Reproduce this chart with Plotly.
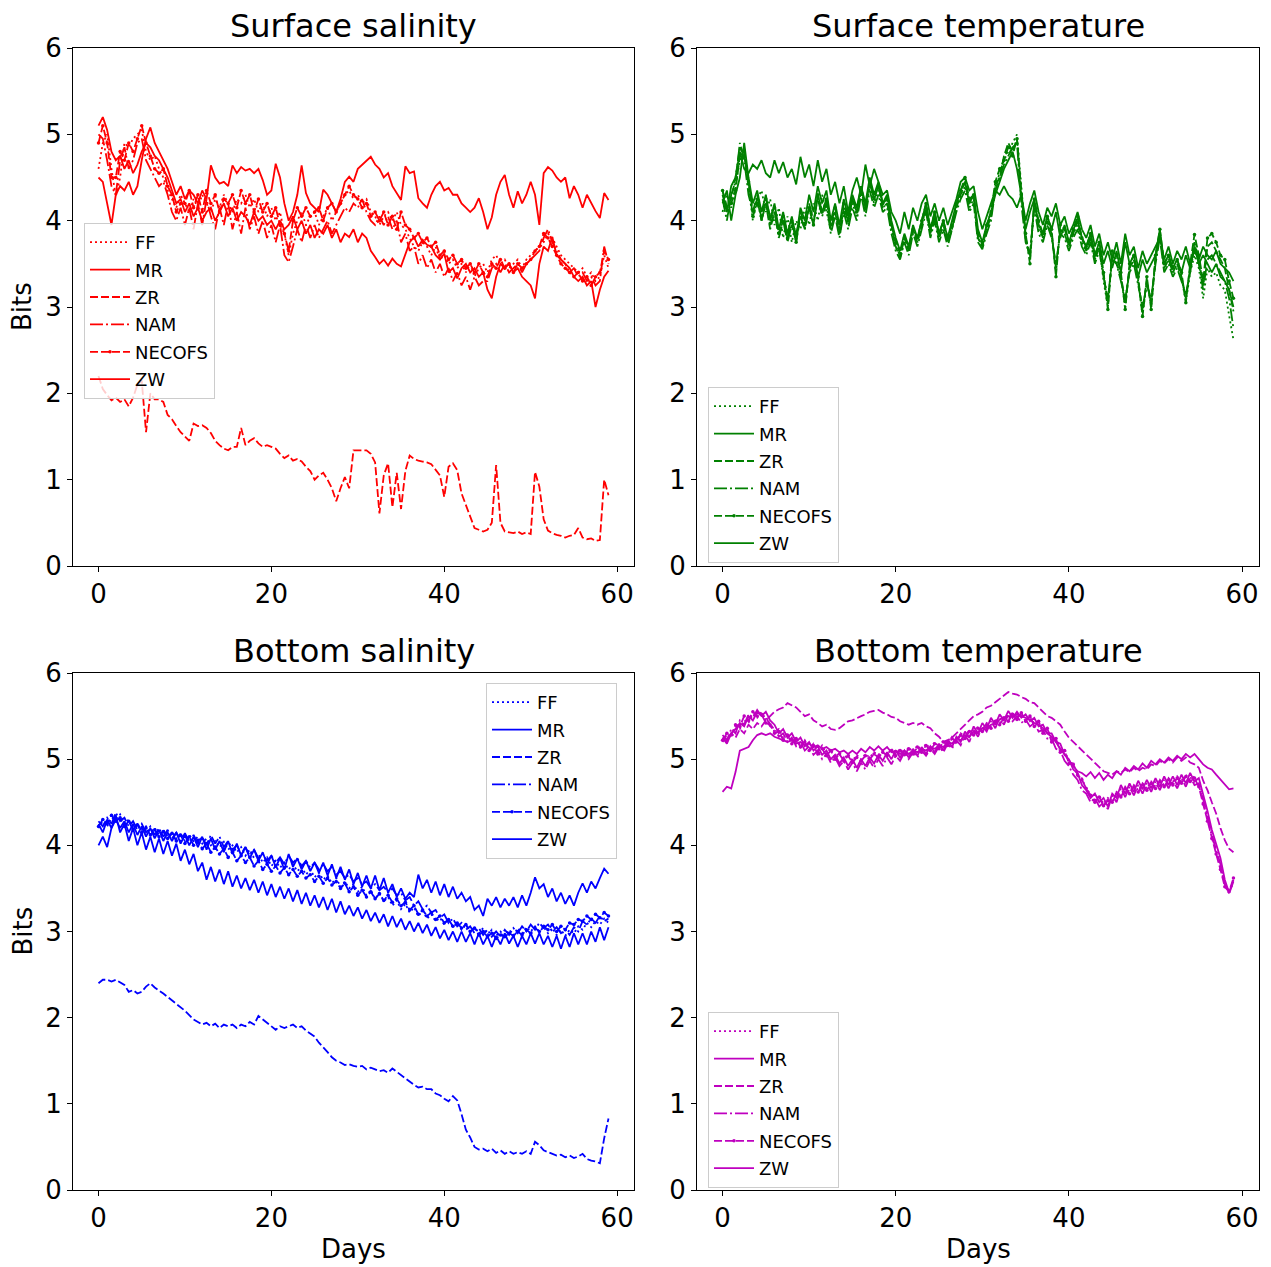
import plotly.graph_objects as go

# ---------------- data (Bits, sampled every half day, days 0..59) ----------------
STEP = 0.5
models = ["FF", "MR", "ZR", "NAM", "NECOFS", "ZW"]

# Surface salinity
ss_FF = [4.6, 4.9, 5.0, 4.6, 4.28, 4.5, 4.9, 4.85, 4.95, 5.0,
         5.05, 4.8, 4.7, 4.75, 4.6, 4.5, 4.35, 4.25, 4.15, 4.3,
         4.2, 4.1, 4.25, 4.15, 4.3, 4.2, 4.1, 4.25, 4.15, 4.3,
         4.2, 4.1, 4.25, 4.2, 4.3, 4.15, 4.25, 4.1, 4.2, 4.05,
         4.15, 4.0, 4.1, 3.85, 3.6, 3.85, 4.0, 4.1, 3.95, 4.05,
         4.1, 3.95, 4.05, 4.15, 4.0, 4.1, 4.2, 4.3, 4.35, 4.25,
         4.3, 4.2, 4.25, 4.1, 4.05, 3.95, 4.05, 4.1, 4.0, 4.1,
         3.95, 3.9, 3.8, 3.7, 3.65, 3.75, 3.7, 3.6, 3.7, 3.55,
         3.6, 3.5, 3.55, 3.45, 3.5, 3.4, 3.5, 3.35, 3.45, 3.5,
         3.4, 3.55, 3.6, 3.5, 3.55, 3.45, 3.5, 3.55, 3.45, 3.55,
         3.6, 3.65, 3.7, 3.75, 3.85, 3.8, 3.7, 3.6, 3.55, 3.5,
         3.45, 3.4, 3.45, 3.35, 3.4, 3.3, 3.35, 3.6, 3.45]
ss_MR = [5.1, 5.2, 5.05, 4.8, 4.7, 4.75, 4.6, 4.7, 4.55, 4.65,
         4.8, 4.9, 4.85, 4.75, 4.7, 4.6, 4.5, 4.35, 4.2, 4.25,
         4.1, 4.2, 4.05, 4.15, 4.0, 4.1, 4.15, 4.0, 4.1, 4.2,
         4.05, 4.15, 4.0, 4.1, 4.05, 3.95, 4.1, 4.0, 4.05, 3.95,
         4.0, 3.9, 4.0, 3.9, 3.95, 4.05, 3.9, 4.0, 3.85, 3.95,
         3.8, 3.9, 3.85, 3.95, 3.8, 3.9, 3.75, 3.85, 3.81, 3.9,
         3.75, 3.85, 3.8, 3.65, 3.58, 3.5, 3.55, 3.48, 3.56, 3.5,
         3.47, 3.6, 3.75, 3.81, 3.7, 3.78, 3.72, 3.7, 3.6, 3.55,
         3.62, 3.4, 3.45, 3.33, 3.45, 3.5, 3.4, 3.45, 3.35, 3.4,
         3.2, 3.1, 3.35, 3.5, 3.45, 3.5, 3.4, 3.45, 3.35, 3.3,
         3.25, 3.1, 3.5, 3.7, 3.65, 3.81, 3.6, 3.55, 3.5, 3.45,
         3.35, 3.3, 3.35, 3.25, 3.3, 3.0, 3.2, 3.35, 3.42]
ss_ZR = [2.2, 2.05, 1.98, 1.92, 1.95, 1.9, 1.93, 1.85, 1.95, 2.1,
         2.15, 1.55, 2.0, 1.93, 1.93, 1.9, 1.75, 1.7, 1.62, 1.55,
         1.5, 1.45, 1.65, 1.62, 1.63, 1.6, 1.54, 1.45, 1.4, 1.36,
         1.34, 1.38, 1.38, 1.6, 1.4, 1.45, 1.48, 1.42, 1.38, 1.4,
         1.38, 1.36, 1.3, 1.25, 1.28, 1.22, 1.24, 1.21, 1.15, 1.1,
         1.0, 1.05, 1.08, 1.0, 0.9, 0.75, 0.9, 1.03, 0.9, 1.34,
         1.34, 1.34, 1.34, 1.3, 1.2, 0.61, 1.05, 1.19, 0.68, 1.08,
         0.66, 1.1, 1.28, 1.24, 1.22, 1.21, 1.2, 1.18, 1.12, 1.05,
         0.8, 1.15, 1.19, 1.11, 0.84, 0.7, 0.58, 0.44, 0.42, 0.4,
         0.42, 0.5, 1.17, 0.5, 0.4, 0.39, 0.38, 0.4, 0.37, 0.39,
         0.37, 1.09, 0.92, 0.54, 0.41, 0.38, 0.36, 0.35, 0.33, 0.35,
         0.36, 0.44, 0.33, 0.31, 0.32, 0.29, 0.3, 1.0, 0.82]
ss_NAM = [5.0, 4.95, 4.7, 4.4, 4.3, 4.7, 4.85, 4.6, 4.7, 4.9,
          4.95, 4.7, 4.6, 4.5, 4.4, 4.45, 4.3, 4.1, 4.0, 4.15,
          3.95, 4.15, 3.9, 4.2, 3.95, 4.25, 4.05, 3.9, 4.15, 3.95,
          4.2, 3.9, 4.1, 3.85, 4.15, 3.9, 4.05, 3.85, 4.0, 3.8,
          3.95, 3.75, 3.95, 3.6, 3.52, 3.7, 3.9, 3.75, 3.95, 3.8,
          3.95, 3.8, 3.9, 4.0, 3.85, 3.95, 4.05, 4.15, 4.1, 4.2,
          4.15, 4.25, 4.1, 4.0, 3.95, 4.05, 3.95, 4.05, 3.9, 4.0,
          3.75, 3.85, 3.65, 3.7, 3.5, 3.6, 3.45, 3.55, 3.4, 3.5,
          3.35, 3.45, 3.3, 3.4, 3.25, 3.35, 3.2, 3.35, 3.25, 3.3,
          3.3, 3.45, 3.5, 3.4, 3.5, 3.4, 3.45, 3.5, 3.4, 3.5,
          3.55, 3.6, 3.65, 3.8, 3.9, 3.75, 3.65, 3.55, 3.5, 3.4,
          3.45, 3.35, 3.4, 3.3, 3.35, 3.25, 3.3, 3.7, 3.5]
ss_NECOFS = [4.9, 5.1, 4.9, 4.5, 4.5, 4.8, 4.7, 4.9, 4.8, 4.95,
             5.1, 4.9, 4.75, 4.6, 4.55, 4.6, 4.4, 4.3, 4.1, 4.2,
             4.2, 4.35, 4.15, 4.3, 4.1, 4.35, 4.2, 4.3, 4.1, 4.25,
             4.2, 4.3, 4.15, 4.35, 4.2, 4.3, 4.1, 4.25, 4.1, 4.2,
             4.05, 4.15, 3.95, 3.85, 3.65, 4.0, 4.15, 4.05, 4.15, 4.05,
             4.1, 4.15, 4.0, 4.15, 4.2, 4.1, 4.2, 4.3, 4.4, 4.3,
             4.25, 4.15, 4.2, 4.05, 4.1, 4.0, 4.1, 3.95, 4.05, 3.9,
             4.1, 3.95, 3.9, 3.8, 3.85, 3.75, 3.8, 3.7, 3.75, 3.6,
             3.65, 3.55, 3.6, 3.5, 3.55, 3.45, 3.5, 3.4, 3.5, 3.4,
             3.35, 3.5, 3.45, 3.55, 3.45, 3.5, 3.4, 3.5, 3.45, 3.5,
             3.55, 3.65, 3.7, 3.85, 3.8, 3.7, 3.6, 3.5, 3.45, 3.4,
             3.35, 3.4, 3.3, 3.35, 3.25, 3.35, 3.4, 3.65, 3.55]
ss_ZW = [4.5, 4.45, 4.2, 3.95, 4.3, 4.4, 4.35, 4.45, 4.3, 4.4,
         4.7, 4.95, 5.08, 4.9, 4.8, 4.7, 4.6, 4.45, 4.3, 4.4,
         4.25, 4.35, 4.3, 4.2, 4.35, 4.25, 4.64, 4.5, 4.43, 4.45,
         4.4, 4.64, 4.55, 4.62, 4.58, 4.6, 4.55, 4.6, 4.47, 4.3,
         4.35, 4.66, 4.5, 4.2, 4.0, 4.1, 4.3, 4.64, 4.32, 4.2,
         4.15, 4.1, 4.36, 4.3, 4.2, 4.1, 4.25, 4.45, 4.51, 4.45,
         4.6, 4.65, 4.7, 4.74, 4.65, 4.6, 4.5, 4.55, 4.4, 4.32,
         4.24, 4.63, 4.55, 4.57, 4.26, 4.2, 4.15, 4.3, 4.4, 4.45,
         4.35, 4.38, 4.3, 4.3, 4.2, 4.15, 4.1, 4.15, 4.26, 4.1,
         3.9, 4.04, 4.3, 4.45, 4.53, 4.3, 4.15, 4.34, 4.2, 4.3,
         4.45, 4.3, 3.95, 4.55, 4.62, 4.58, 4.5, 4.45, 4.5, 4.26,
         4.4, 4.3, 4.15, 4.3, 4.2, 4.11, 4.03, 4.32, 4.24]

# Surface temperature
st_FF = [4.1, 4.3, 4.15, 4.4, 4.7, 4.85, 4.4, 4.0, 4.25, 4.35,
         4.1, 4.25, 3.95, 4.15, 3.8, 4.05, 3.75, 4.0, 3.9, 4.15,
         3.95, 4.2, 4.0, 4.3, 4.1, 3.9, 4.1, 3.85, 4.15, 3.95,
         4.2, 4.05, 4.35, 4.1, 4.4, 4.2, 4.35, 4.15, 4.2, 3.9,
         3.7, 3.6, 3.8, 3.65, 3.9, 3.75, 3.95, 4.15, 3.85, 4.05,
         3.8, 3.95, 3.75, 3.95, 4.15, 4.3, 4.4, 4.15, 4.25, 3.8,
         3.7, 3.9, 4.05, 4.4, 4.55, 4.7, 4.8, 4.9, 5.0, 4.4,
         3.8, 3.55, 4.2, 3.9, 3.8, 4.0, 3.85, 3.4, 3.9, 3.85,
         3.7, 3.85, 3.95, 3.75, 3.65, 3.8, 3.55, 3.7, 3.3, 3.0,
         3.6, 3.55, 3.35, 3.0, 3.45, 3.55, 3.3, 2.9, 3.3, 3.0,
         3.55, 3.85, 3.45, 3.55, 3.4, 3.5, 3.35, 3.05, 3.4, 3.6,
         3.45, 3.1, 3.45, 3.35, 3.4, 3.25, 3.2, 2.9, 2.62]
st_MR = [4.2, 4.35, 4.0, 4.3, 4.5, 4.9, 4.5, 4.2, 4.35, 4.1,
         4.3, 4.0, 4.2, 3.9, 4.1, 3.85, 4.05, 3.8, 4.15, 4.0,
         4.3, 4.1, 4.4, 4.2, 4.35, 4.0, 4.2, 3.95, 4.25, 4.05,
         4.3, 4.15, 4.4, 4.2, 4.5, 4.3, 4.45, 4.2, 4.3, 4.0,
         3.8, 3.65, 3.85, 3.7, 3.95, 3.8, 4.0, 4.2, 3.9, 4.1,
         3.85, 4.0, 3.8, 4.0, 4.2, 4.35, 4.45, 4.2, 4.3, 3.9,
         3.75, 3.95, 4.1, 4.3, 4.45, 4.6, 4.7, 4.8, 4.6, 4.3,
         3.9, 4.1, 4.25, 3.95, 3.85, 4.05, 3.9, 4.1, 3.8, 3.95,
         3.75, 3.9, 4.0, 3.8, 3.7, 3.85, 3.6, 3.75, 3.5, 3.65,
         3.45, 3.65, 3.4, 3.75, 3.5, 3.6, 3.35, 3.55, 3.4, 3.5,
         3.6, 3.9, 3.5, 3.6, 3.45, 3.55, 3.4, 3.6, 3.45, 3.7,
         3.5, 3.6, 3.5, 3.4, 3.5, 3.35, 3.3, 3.2, 3.0]
st_ZR = [4.35, 4.15, 4.25, 4.5, 4.85, 4.75, 4.45, 4.1, 4.25, 4.0,
         4.2, 3.9, 4.1, 3.85, 4.0, 3.8, 3.95, 3.75, 4.05, 3.9,
         4.15, 3.95, 4.3, 4.1, 4.25, 3.9, 4.1, 3.85, 4.15, 4.0,
         4.25, 4.1, 4.4, 4.15, 4.45, 4.25, 4.4, 4.15, 4.2, 3.95,
         3.7, 3.57, 3.8, 3.65, 3.9, 3.75, 3.95, 4.15, 3.85, 4.05,
         3.8, 3.95, 3.75, 3.9, 4.15, 4.3, 4.45, 4.2, 4.3, 3.8,
         3.7, 3.9, 4.05, 4.4, 4.5, 4.75, 4.9, 4.8, 4.95, 4.35,
         3.8, 3.6, 4.2, 3.95, 3.8, 4.0, 3.85, 3.45, 3.9, 3.85,
         3.7, 3.85, 4.0, 3.8, 3.65, 3.8, 3.55, 3.7, 3.35, 3.05,
         3.6, 3.5, 3.35, 3.05, 3.45, 3.55, 3.3, 2.95, 3.3, 3.05,
         3.55, 3.85, 3.45, 3.55, 3.4, 3.5, 3.35, 3.1, 3.45, 3.75,
         3.55, 3.25, 3.7, 3.75, 3.65, 3.55, 3.45, 3.2, 2.95]
st_NAM = [4.25, 4.0, 4.3, 4.45, 4.9, 4.7, 4.3, 4.1, 4.3, 4.0,
          4.2, 3.95, 4.1, 3.8, 4.0, 3.75, 3.95, 3.85, 4.05, 3.9,
          4.2, 4.0, 4.25, 4.05, 4.2, 3.85, 4.05, 3.8, 4.1, 3.9,
          4.15, 4.0, 4.3, 4.05, 4.35, 4.15, 4.3, 4.1, 4.15, 3.85,
          3.65, 3.55, 3.75, 3.6, 3.85, 3.7, 3.9, 4.1, 3.8, 4.0,
          3.75, 3.9, 3.7, 3.9, 4.1, 4.25, 4.35, 4.1, 4.2, 3.75,
          3.67, 3.85, 4.0, 4.35, 4.5, 4.65, 4.75, 4.85, 4.9, 4.2,
          3.75, 3.6, 4.15, 3.85, 3.75, 3.95, 3.8, 3.5, 3.85, 3.8,
          3.65, 3.8, 3.9, 3.7, 3.6, 3.75, 3.5, 3.65, 3.35, 3.1,
          3.55, 3.5, 3.3, 3.1, 3.4, 3.5, 3.25, 3.0, 3.25, 3.1,
          3.5, 3.8, 3.4, 3.5, 3.35, 3.45, 3.3, 3.15, 3.4, 3.7,
          3.5, 3.2, 3.55, 3.6, 3.5, 3.4, 3.3, 3.1, 2.75]
st_NECOFS = [4.35, 4.15, 4.2, 4.35, 4.75, 4.8, 4.45, 4.05, 4.2, 4.05,
             4.25, 4.05, 4.15, 3.85, 4.05, 3.8, 4.0, 3.75, 4.1, 3.95,
             4.15, 3.95, 4.3, 4.1, 4.25, 3.95, 4.15, 3.9, 4.2, 4.0,
             4.25, 4.1, 4.35, 4.15, 4.45, 4.25, 4.4, 4.2, 4.25, 3.95,
             3.75, 3.62, 3.8, 3.7, 3.9, 3.8, 4.0, 4.2, 3.9, 4.1,
             3.85, 4.0, 3.8, 3.95, 4.2, 4.35, 4.5, 4.25, 4.3, 3.85,
             3.72, 3.95, 4.1, 4.45, 4.6, 4.7, 4.85, 4.75, 4.95, 4.3,
             3.85, 3.5, 4.25, 4.0, 3.85, 4.05, 3.9, 3.35, 3.95, 3.9,
             3.75, 3.9, 4.05, 3.8, 3.7, 3.85, 3.6, 3.75, 3.4, 2.97,
             3.65, 3.6, 3.4, 2.97, 3.5, 3.6, 3.35, 2.89, 3.35, 2.97,
             3.6, 3.9, 3.5, 3.6, 3.45, 3.55, 3.4, 3.05, 3.5, 3.84,
             3.6, 3.3, 3.8, 3.85, 3.75, 3.6, 3.55, 3.3, 3.1]
st_ZW = [4.3, 4.1, 4.4, 4.5, 4.8, 4.6, 4.55, 4.65, 4.6, 4.7,
         4.55, 4.5, 4.7, 4.55, 4.68, 4.5, 4.6, 4.42, 4.74, 4.5,
         4.65, 4.4, 4.7, 4.45, 4.6, 4.3, 4.45, 4.2, 4.4, 4.1,
         4.35, 4.5, 4.3, 4.65, 4.4, 4.6, 4.45, 4.3, 4.35, 4.1,
         4.0, 3.85, 4.1, 3.9, 4.15, 4.0, 4.2, 4.3, 4.05, 4.2,
         4.0, 4.15, 3.95, 4.1, 4.25, 4.45, 4.5, 4.35, 4.4, 4.1,
         3.9, 4.05, 4.2, 4.35, 4.3, 4.4, 4.3, 4.25, 4.15, 4.3,
         4.0, 4.2, 4.35, 4.1, 3.95, 4.15, 4.05, 4.2, 3.95, 4.05,
         3.85, 3.95, 4.1, 3.9, 3.8, 3.95, 3.7, 3.85, 3.6, 3.75,
         3.55, 3.75, 3.5, 3.85, 3.6, 3.7, 3.45, 3.65, 3.5, 3.6,
         3.7, 3.8, 3.55, 3.7, 3.5, 3.65, 3.55, 3.7, 3.5, 3.65,
         3.55, 3.7, 3.6, 3.55, 3.65, 3.5, 3.45, 3.4, 3.3]

# Bottom salinity
bs_FF = [4.2, 4.28, 4.22, 4.32, 4.3, 4.36, 4.25, 4.3, 4.2, 4.25,
         4.18, 4.22, 4.15, 4.2, 4.12, 4.18, 4.1, 4.15, 4.08, 4.14,
         4.05, 4.12, 4.05, 4.1, 4.02, 4.08, 4.0, 4.05, 3.98, 4.04,
         3.95, 4.0, 3.92, 3.98, 3.88, 3.95, 3.85, 3.9, 3.8, 3.86,
         3.76, 3.82, 3.74, 3.8, 3.72, 3.78, 3.7, 3.75, 3.66, 3.72,
         3.63, 3.68, 3.6, 3.65, 3.56, 3.62, 3.52, 3.58, 3.5, 3.55,
         3.46, 3.52, 3.42, 3.48, 3.38, 3.44, 3.35, 3.4, 3.3, 3.36,
         3.26, 3.32, 3.22, 3.28, 3.18, 3.24, 3.15, 3.2, 3.12, 3.16,
         3.08, 3.14, 3.05, 3.1, 3.02, 3.08, 3.0, 3.05, 2.98, 3.04,
         2.96, 3.02, 2.95, 3.0, 2.95, 3.02, 2.96, 3.04, 2.98, 3.05,
         3.0, 3.06, 3.0, 3.05, 2.98, 3.04, 2.96, 3.02, 2.95, 3.02,
         2.98, 3.06, 3.02, 3.1, 3.05, 3.12, 3.08, 3.15, 3.1]
bs_MR = [4.25, 4.15, 4.3, 4.2, 4.35, 4.15, 4.25, 4.05, 4.2, 4.0,
         4.15, 3.95, 4.1, 3.92, 4.08, 3.9, 4.05, 3.88, 4.02, 3.82,
         3.95, 3.78, 3.9, 3.7, 3.8, 3.6, 3.75, 3.58, 3.72, 3.55,
         3.7, 3.52, 3.65, 3.5, 3.62, 3.48, 3.6, 3.45, 3.58, 3.42,
         3.55, 3.4, 3.52, 3.38, 3.5, 3.35, 3.48, 3.32, 3.45, 3.3,
         3.42, 3.28, 3.4, 3.25, 3.38, 3.22, 3.35, 3.2, 3.3, 3.18,
         3.28, 3.15, 3.25, 3.12, 3.22, 3.1, 3.2, 3.06, 3.18, 3.05,
         3.15, 3.02, 3.12, 3.0, 3.1, 2.98, 3.08, 2.95, 3.05, 2.92,
         3.02, 2.9, 3.0, 2.88, 3.0, 2.88, 2.98, 2.85, 2.98, 2.85,
         2.95, 2.82, 2.95, 2.85, 2.98, 2.86, 2.95, 2.82, 2.95, 2.85,
         2.98, 2.86, 2.98, 2.85, 2.95, 2.82, 2.95, 2.8, 2.95, 2.82,
         2.98, 2.85, 2.98, 2.85, 3.0, 2.88, 3.05, 2.9, 3.05]
bs_ZR = [2.4, 2.44, 2.44, 2.42, 2.44, 2.41, 2.38, 2.3, 2.32, 2.28,
         2.3, 2.36, 2.4, 2.35, 2.32, 2.28, 2.24, 2.2, 2.17, 2.12,
         2.08, 2.03, 1.98, 1.95, 1.92, 1.94, 1.9, 1.93, 1.88, 1.92,
         1.9, 1.92, 1.88, 1.92, 1.9, 1.95, 1.92, 2.02, 1.98, 1.95,
         1.9, 1.86, 1.9, 1.88, 1.9, 1.92, 1.88, 1.9, 1.85, 1.82,
         1.78, 1.71, 1.66, 1.6, 1.54, 1.5, 1.48, 1.45, 1.46, 1.44,
         1.43, 1.44, 1.4, 1.42, 1.4, 1.38, 1.39, 1.36, 1.41, 1.37,
         1.33, 1.3, 1.25, 1.22, 1.19, 1.2, 1.17, 1.17, 1.12, 1.1,
         1.06, 1.03, 1.09, 1.04, 0.88, 0.7, 0.61, 0.5, 0.47, 0.48,
         0.45, 0.48, 0.43, 0.46, 0.42, 0.45, 0.42, 0.44, 0.42, 0.45,
         0.42, 0.56, 0.52, 0.46, 0.44, 0.42, 0.4, 0.41, 0.38, 0.4,
         0.37, 0.39, 0.42, 0.36, 0.34, 0.33, 0.31, 0.6, 0.83]
bs_NAM = [4.28, 4.22, 4.32, 4.25, 4.38, 4.28, 4.32, 4.22, 4.28, 4.18,
          4.25, 4.15, 4.22, 4.12, 4.2, 4.1, 4.18, 4.08, 4.15, 4.05,
          4.14, 4.04, 4.12, 4.02, 4.1, 4.0, 4.12, 4.02, 4.1, 3.98,
          4.05, 3.95, 4.0, 3.9, 3.98, 3.88, 3.95, 3.85, 3.9, 3.82,
          3.88, 3.8, 3.86, 3.78, 3.88, 3.8, 3.85, 3.76, 3.82, 3.74,
          3.8, 3.72, 3.78, 3.7, 3.75, 3.66, 3.7, 3.62, 3.66, 3.58,
          3.62, 3.55, 3.58, 3.5, 3.55, 3.48, 3.52, 3.45, 3.5, 3.42,
          3.45, 3.36, 3.4, 3.3, 3.35, 3.26, 3.3, 3.22, 3.25, 3.16,
          3.2, 3.1, 3.15, 3.06, 3.1, 3.02, 3.06, 2.98, 3.04, 2.96,
          3.02, 2.94, 3.0, 2.94, 3.02, 2.96, 3.04, 2.98, 3.06, 3.0,
          3.08, 3.02, 3.1, 3.04, 3.08, 3.0, 3.05, 2.98, 3.02, 2.96,
          3.05, 3.0, 3.12, 3.08, 3.15, 3.1, 3.18, 3.12, 3.15]
bs_NECOFS = [4.22, 4.3, 4.25, 4.35, 4.28, 4.32, 4.22, 4.28, 4.18, 4.24,
             4.15, 4.2, 4.12, 4.18, 4.1, 4.16, 4.08, 4.14, 4.05, 4.12,
             4.02, 4.1, 4.0, 4.06, 3.96, 4.02, 3.92, 3.98, 3.9, 3.96,
             3.86, 3.92, 3.82, 3.88, 3.8, 3.86, 3.76, 3.82, 3.72, 3.78,
             3.7, 3.76, 3.68, 3.74, 3.66, 3.72, 3.64, 3.7, 3.62, 3.66,
             3.58, 3.64, 3.56, 3.62, 3.54, 3.58, 3.5, 3.56, 3.46, 3.52,
             3.42, 3.48, 3.4, 3.46, 3.38, 3.44, 3.36, 3.42, 3.34, 3.38,
             3.3, 3.34, 3.25, 3.3, 3.2, 3.25, 3.18, 3.22, 3.14, 3.18,
             3.1, 3.14, 3.06, 3.1, 3.04, 3.08, 3.0, 3.04, 2.96, 3.0,
             2.94, 2.98, 2.92, 2.96, 2.94, 2.98, 2.95, 3.0, 2.96, 3.02,
             2.98, 3.04, 3.0, 3.06, 3.02, 3.08, 3.0, 3.06, 3.02, 3.1,
             3.08, 3.14, 3.12, 3.18, 3.14, 3.2, 3.16, 3.22, 3.18]
bs_ZW = [4.0, 4.1, 3.98, 4.2, 4.3, 4.2, 4.28, 4.15, 4.25, 4.12,
         4.22, 4.1, 4.2, 4.08, 4.18, 4.05, 4.15, 4.05, 4.15, 4.02,
         4.12, 4.0, 4.1, 3.98, 4.1, 3.95, 4.08, 3.95, 4.05, 3.92,
         4.05, 3.9, 4.02, 3.88, 3.98, 3.85, 3.95, 3.82, 3.92, 3.78,
         3.88, 3.75, 3.85, 3.72, 3.9, 3.75, 3.85, 3.72, 3.82, 3.7,
         3.8, 3.68, 3.8, 3.65, 3.78, 3.62, 3.75, 3.6, 3.72, 3.55,
         3.68, 3.52, 3.65, 3.5, 3.65, 3.48, 3.62, 3.45, 3.55, 3.4,
         3.5, 3.38, 3.45, 3.4, 3.66, 3.5, 3.6, 3.45, 3.58, 3.42,
         3.55, 3.4, 3.52, 3.38, 3.45, 3.35, 3.4, 3.25, 3.3, 3.18,
         3.38, 3.3, 3.4, 3.28, 3.38, 3.3, 3.4, 3.28, 3.42, 3.3,
         3.45, 3.63, 3.5, 3.55, 3.4, 3.5, 3.35, 3.45, 3.32, 3.42,
         3.3, 3.45, 3.56, 3.45, 3.58, 3.5, 3.62, 3.73, 3.67]

# Bottom temperature
bt_FF = [5.2, 5.28, 5.25, 5.38, 5.35, 5.45, 5.42, 5.52, 5.48, 5.55,
         5.45, 5.42, 5.32, 5.35, 5.25, 5.3, 5.2, 5.25, 5.15, 5.22,
         5.12, 5.18, 5.1, 5.16, 5.06, 5.12, 5.02, 5.08, 5.0, 5.06,
         4.98, 5.05, 5.0, 5.06, 5.02, 5.08, 5.05, 5.1, 5.05, 5.12,
         5.06, 5.12, 5.06, 5.14, 5.08, 5.16, 5.1, 5.18, 5.12, 5.2,
         5.14, 5.22, 5.18, 5.26, 5.22, 5.3, 5.26, 5.34, 5.3, 5.38,
         5.34, 5.42, 5.38, 5.46, 5.42, 5.5, 5.46, 5.54, 5.48, 5.52,
         5.44, 5.5, 5.4, 5.44, 5.32, 5.36, 5.22, 5.26, 5.1, 5.12,
         4.96, 4.95, 4.8, 4.78, 4.65, 4.6, 4.52, 4.58, 4.48, 4.55,
         4.52, 4.62, 4.58, 4.68, 4.62, 4.7, 4.64, 4.72, 4.66, 4.74,
         4.68, 4.76, 4.7, 4.78, 4.72, 4.8, 4.74, 4.82, 4.76, 4.8,
         4.7, 4.5, 4.3, 4.1, 3.92, 3.75, 3.55, 3.48, 3.55]
bt_MR = [5.25, 5.18, 5.3, 5.35, 5.42, 5.38, 5.5, 5.45, 5.55, 5.5,
         5.55, 5.45, 5.4, 5.3, 5.35, 5.25, 5.3, 5.2, 5.25, 5.15,
         5.2, 5.1, 5.15, 5.05, 5.1, 5.0, 5.05, 4.95, 5.02, 4.92,
         5.0, 4.9, 5.0, 4.92, 5.02, 4.95, 5.05, 4.98, 5.08, 5.0,
         5.1, 5.02, 5.1, 5.02, 5.12, 5.04, 5.14, 5.06, 5.15, 5.08,
         5.18, 5.1, 5.22, 5.14, 5.26, 5.2, 5.32, 5.25, 5.38, 5.3,
         5.42, 5.35, 5.48, 5.4, 5.52, 5.45, 5.56, 5.48, 5.55, 5.48,
         5.52, 5.44, 5.48, 5.38, 5.4, 5.3, 5.3, 5.2, 5.18, 5.05,
         5.0, 4.88, 4.84, 4.7, 4.64, 4.55, 4.6, 4.5, 4.55, 4.45,
         4.6, 4.55, 4.7, 4.6, 4.72, 4.62, 4.75, 4.65, 4.76, 4.66,
         4.78, 4.68, 4.8, 4.7, 4.8, 4.7, 4.82, 4.72, 4.84, 4.74,
         4.78, 4.6, 4.4, 4.18, 4.0, 3.85, 3.6, 3.45, 3.6]
bt_ZR = [5.25, 5.2, 5.3, 5.25, 5.35, 5.3, 5.4, 5.35, 5.42, 5.38,
         5.45, 5.5, 5.55, 5.58, 5.6, 5.65, 5.62, 5.6, 5.55, 5.5,
         5.52, 5.45, 5.42, 5.38, 5.4, 5.35, 5.34, 5.36, 5.4, 5.44,
         5.45, 5.48, 5.5, 5.52, 5.55, 5.56, 5.57, 5.54, 5.52, 5.49,
         5.48, 5.44, 5.42, 5.4, 5.42, 5.4, 5.42, 5.38, 5.36, 5.3,
         5.26, 5.2, 5.22, 5.25, 5.3, 5.35, 5.4, 5.44, 5.5, 5.52,
         5.55, 5.6, 5.62, 5.66, 5.7, 5.74, 5.78, 5.76, 5.75, 5.72,
         5.7, 5.66, 5.65, 5.6, 5.55, 5.5, 5.48, 5.44, 5.4, 5.32,
         5.25, 5.2, 5.15, 5.1, 5.05, 5.0, 4.95, 4.9, 4.86, 4.84,
         4.82, 4.86, 4.84, 4.88, 4.85, 4.9, 4.86, 4.9, 4.88, 4.94,
         4.92, 4.98, 4.95, 5.0, 4.96, 5.02, 4.98, 5.02, 4.96, 4.94,
         4.9, 4.75, 4.64, 4.5, 4.37, 4.2, 4.06, 3.96, 3.92]
bt_NAM = [5.28, 5.22, 5.35, 5.3, 5.45, 5.4, 5.52, 5.48, 5.57, 5.5,
          5.5, 5.38, 5.36, 5.26, 5.3, 5.2, 5.25, 5.15, 5.2, 5.1,
          5.15, 5.05, 5.1, 5.0, 5.06, 4.96, 5.02, 4.92, 4.98, 4.88,
          4.96, 4.86, 4.96, 4.88, 4.98, 4.9, 5.0, 4.92, 5.02, 4.94,
          5.04, 4.98, 5.08, 5.0, 5.08, 5.02, 5.1, 5.04, 5.12, 5.06,
          5.15, 5.08, 5.18, 5.12, 5.22, 5.16, 5.28, 5.2, 5.34, 5.26,
          5.38, 5.32, 5.44, 5.36, 5.48, 5.4, 5.52, 5.44, 5.5, 5.42,
          5.46, 5.38, 5.42, 5.32, 5.34, 5.24, 5.24, 5.12, 5.1, 4.98,
          4.92, 4.82, 4.76, 4.64, 4.6, 4.5, 4.55, 4.45, 4.5, 4.42,
          4.58, 4.5, 4.66, 4.56, 4.68, 4.58, 4.7, 4.6, 4.72, 4.62,
          4.74, 4.64, 4.76, 4.66, 4.76, 4.66, 4.78, 4.68, 4.8, 4.7,
          4.72, 4.55, 4.35, 4.12, 3.95, 3.78, 3.55, 3.44, 3.58]
bt_NECOFS = [5.22, 5.3, 5.28, 5.4, 5.38, 5.5, 5.45, 5.55, 5.5, 5.52,
             5.42, 5.4, 5.3, 5.32, 5.22, 5.28, 5.18, 5.24, 5.14, 5.2,
             5.1, 5.16, 5.06, 5.12, 5.04, 5.1, 5.0, 5.06, 4.98, 5.04,
             4.96, 5.02, 4.98, 5.04, 5.0, 5.06, 5.02, 5.08, 5.04, 5.1,
             5.04, 5.1, 5.05, 5.12, 5.06, 5.14, 5.08, 5.16, 5.1, 5.18,
             5.12, 5.2, 5.16, 5.24, 5.2, 5.28, 5.24, 5.32, 5.28, 5.36,
             5.32, 5.4, 5.36, 5.44, 5.4, 5.48, 5.44, 5.52, 5.46, 5.54,
             5.44, 5.5, 5.38, 5.44, 5.3, 5.36, 5.2, 5.24, 5.08, 5.1,
             4.95, 4.94, 4.82, 4.76, 4.66, 4.58, 4.5, 4.56, 4.46, 4.52,
             4.5, 4.6, 4.56, 4.66, 4.6, 4.68, 4.62, 4.7, 4.64, 4.72,
             4.66, 4.74, 4.68, 4.76, 4.7, 4.78, 4.72, 4.8, 4.74, 4.78,
             4.68, 4.48, 4.28, 4.08, 3.9, 3.72, 3.52, 3.46, 3.62]
bt_ZW = [4.62, 4.68, 4.66, 4.85, 5.1, 5.12, 5.14, 5.22, 5.28, 5.3,
         5.28, 5.3, 5.26, 5.24, 5.22, 5.2, 5.22, 5.18, 5.2, 5.16,
         5.18, 5.14, 5.16, 5.12, 5.14, 5.1, 5.12, 5.08, 5.1, 5.06,
         5.1, 5.06, 5.12, 5.08, 5.14, 5.1, 5.15, 5.1, 5.14, 5.08,
         5.1, 5.06, 5.1, 5.06, 5.1, 5.08, 5.12, 5.1, 5.14, 5.12,
         5.16, 5.14, 5.2, 5.18, 5.24, 5.22, 5.28, 5.26, 5.32, 5.3,
         5.36, 5.34, 5.4, 5.42, 5.46, 5.48, 5.5, 5.5, 5.52, 5.5,
         5.48, 5.46, 5.42, 5.4, 5.36, 5.3, 5.26, 5.2, 5.12, 5.05,
         4.98, 4.92, 4.86, 4.84, 4.8, 4.85, 4.78, 4.84, 4.76, 4.82,
         4.78, 4.86, 4.82, 4.9, 4.86, 4.92, 4.88, 4.95, 4.9, 4.98,
         4.94, 5.0, 4.96, 5.02, 4.98, 5.04, 5.0, 5.06, 5.02, 5.06,
         5.0, 4.94, 4.9, 4.88, 4.82, 4.76, 4.7, 4.65, 4.66]

panels = [
    ("Surface salinity", "#ff0000", [ss_FF, ss_MR, ss_ZR, ss_NAM, ss_NECOFS, ss_ZW]),
    ("Surface temperature", "#008000", [st_FF, st_MR, st_ZR, st_NAM, st_NECOFS, st_ZW]),
    ("Bottom salinity", "#0000ff", [bs_FF, bs_MR, bs_ZR, bs_NAM, bs_NECOFS, bs_ZW]),
    ("Bottom temperature", "#bf00bf", [bt_FF, bt_MR, bt_ZR, bt_NAM, bt_NECOFS, bt_ZW]),
]

# ---------------- layout geometry ----------------
W, H = 1271, 1267
FONT = "DejaVu Sans"
px_x = lambda p: p / W
px_y = lambda p: 1 - p / H

xdoms = [(73, 634), (697, 1259), (73, 634), (697, 1259)]
ydoms = [(48, 566), (48, 566), (673, 1190), (673, 1190)]
legend_pos = [(84, 223), (708, 387), (486, 683), (708, 1012)]

dash_styles = {
    "FF": "2px,3px",
    "MR": "solid",
    "ZR": "8px,3px",
    "NAM": "13px,3px,2px,3px",
    "NECOFS": "8px,3px",
    "ZW": "solid",
}

fig = go.Figure()
layout = dict(
    template="none",
    width=W, height=H,
    margin=dict(l=0, r=0, t=0, b=0, pad=0, autoexpand=False),
    paper_bgcolor="white", plot_bgcolor="white",
    font=dict(family=FONT, color="black"),
    showlegend=True,
)
annotations = []

for i, (title, color, series) in enumerate(panels):
    ax = "" if i == 0 else str(i + 1)
    leg = "legend" if i == 0 else f"legend{i + 1}"
    for name, vals in zip(models, series):
        days = [STEP * k for k in range(len(vals))]
        fig.add_trace(go.Scatter(
            x=days, y=vals, name=name,
            legendgroup=f"p{i}-{name}",
            mode="lines+markers" if name == "NECOFS" else "lines",
            line=dict(color=color, width=1.8, dash=dash_styles[name]),
            marker=dict(size=3.5, color=color) if name == "NECOFS" else None,
            xaxis="x" + ax, yaxis="y" + ax, legend=leg,
        ))
    x0, x1 = xdoms[i]
    y0, y1 = ydoms[i]
    axis_common = dict(
        showline=True, linecolor="black", linewidth=1.1, mirror=True,
        ticks="outside", ticklen=5, tickwidth=1.1, tickcolor="black",
        showgrid=False, zeroline=False, automargin=False,
        tickfont=dict(family=FONT, size=26, color="black"),
    )
    layout["xaxis" + ax] = dict(
        domain=[px_x(x0), px_x(x1)], range=[-2.95, 61.95],
        tickvals=[0, 20, 40, 60], anchor="y" + ax, **axis_common)
    layout["yaxis" + ax] = dict(
        domain=[px_y(y1), px_y(y0)], range=[0, 6],
        tickvals=[0, 1, 2, 3, 4, 5, 6], anchor="x" + ax, **axis_common)
    lx, ly = legend_pos[i]
    layout[leg] = dict(
        x=px_x(lx), y=px_y(ly), xanchor="left", yanchor="top",
        xref="paper", yref="paper",
        bgcolor="rgba(255,255,255,0.8)", bordercolor="#cccccc", borderwidth=1,
        font=dict(family=FONT, size=18, color="black"),
        itemwidth=40, traceorder="grouped", tracegroupgap=1,
    )
    annotations.append(dict(
        text=title, x=px_x((x0 + x1) / 2), y=px_y(26),
        xref="paper", yref="paper", xanchor="center", yanchor="middle",
        showarrow=False, font=dict(family=FONT, size=32, color="black")))
    if i in (0, 2):
        annotations.append(dict(
            text="Bits", x=px_x(22), y=px_y((y0 + y1) / 2), textangle=-90,
            xref="paper", yref="paper", xanchor="center", yanchor="middle",
            showarrow=False, font=dict(family=FONT, size=26, color="black")))
    if i in (2, 3):
        annotations.append(dict(
            text="Days", x=px_x((x0 + x1) / 2), y=px_y(1249),
            xref="paper", yref="paper", xanchor="center", yanchor="middle",
            showarrow=False, font=dict(family=FONT, size=26, color="black")))

# bottom-row titles sit above their own panels
for a in annotations:
    pass
annotations[[k for k, a in enumerate(annotations) if a["text"] == "Bottom salinity"][0]]["y"] = px_y(651)
annotations[[k for k, a in enumerate(annotations) if a["text"] == "Bottom temperature"][0]]["y"] = px_y(651)

layout["annotations"] = annotations
fig.update_layout(**layout)
fig.write_html("out.html")
